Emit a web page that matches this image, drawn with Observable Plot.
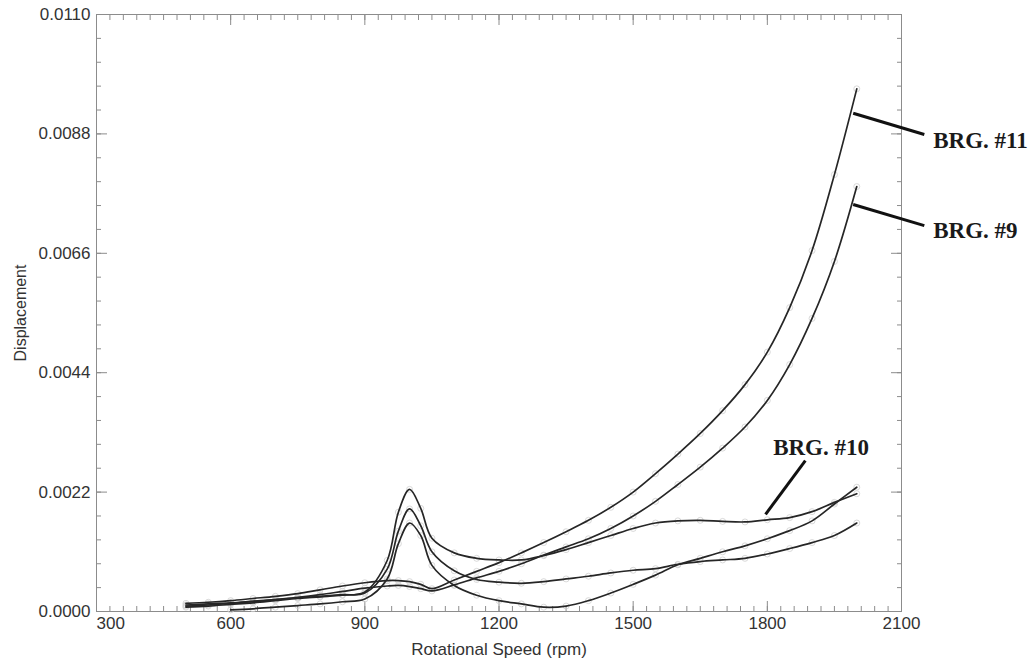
<!DOCTYPE html>
<html>
<head>
<meta charset="utf-8">
<script src="https://cdn.jsdelivr.net/npm/d3@7"></script>
<script src="https://cdn.jsdelivr.net/npm/@observablehq/plot@0.6"></script>
<style>
  html, body { margin: 0; padding: 0; background: #fff; }
  #chart svg { display: block; }
</style>
</head>
<body>
<div id="chart"></div>
<script>
// ---- Data ----
const rpm = [500,550,600,650,700,750,800,850,900,950,975,1000,1025,1050,1100,1150,1200,1250,1300,1350,1400,1450,1500,1550,1600,1650,1700,1750,1800,1850,1900,1950,2000];

const brg11 = [0.00015,0.00017,0.0002,0.00024,0.00028,0.00033,0.0004,0.00047,0.00053,0.00057,0.00057,0.00055,0.0005,0.00042,0.00058,0.00074,0.0009,0.00108,0.00127,0.00147,0.00168,0.00192,0.0022,0.00254,0.0029,0.00328,0.0037,0.00418,0.00478,0.0056,0.00665,0.00805,0.00963];

const brg9 = [0.0001,0.00012,0.00015,0.00018,0.00022,0.00026,0.00031,0.00037,0.00043,0.00047,0.00048,0.00046,0.00042,0.00038,0.00049,0.00062,0.00074,0.00088,0.00104,0.00119,0.00134,0.00153,0.00176,0.00203,0.00234,0.00266,0.00301,0.0034,0.00389,0.00455,0.0054,0.00645,0.00783];

const brg10 = [0.00008,0.0001,0.00013,0.00016,0.0002,0.00024,0.00027,0.0003,0.00036,0.00094,0.00183,0.00225,0.0019,0.00135,0.00108,0.00098,0.00095,0.00095,0.00103,0.00114,0.00127,0.0014,0.00153,0.00163,0.00167,0.00168,0.00166,0.00165,0.00169,0.00173,0.00184,0.00201,0.00217];

const brgA = [0.00012,0.00014,0.00016,0.00019,0.00022,0.00025,0.00028,0.00031,0.00034,0.00078,0.00148,0.00189,0.00158,0.0011,0.00075,0.00059,0.00054,0.00052,0.00055,0.0006,0.00065,0.00071,0.00076,0.00079,0.00087,0.00092,0.00095,0.00098,0.00106,0.00116,0.00127,0.0014,0.00163];

const brgB = [null,null,0.00003,0.00005,0.00008,0.00011,0.00014,0.00018,0.00023,0.0006,0.00125,0.00163,0.0014,0.00085,0.00048,0.0003,0.0002,0.00014,0.00008,0.0001,0.0002,0.00034,0.0005,0.00067,0.00086,0.00098,0.0011,0.00121,0.00134,0.00149,0.00167,0.00198,0.00229];

const seriesNames = ["BRG. #11", "BRG. #9", "BRG. #10", "curve A", "curve B"];
const seriesValues = [brg11, brg9, brg10, brgA, brgB];

const xTicks = [300,600,900,1200,1500,1800,2100];
const yTicks = [0,0.0022,0.0044,0.0066,0.0088,0.011];
const xMinorTicks = d3.range(300, 2100.5, 30);
const yMinorTicks = d3.range(0, 0.01101, 0.00044);

// Annotation label anchors in data units
const labelText = ["BRG. #11", "BRG. #9", "BRG. #10"];
const labelX = [2171, 2171, 1813];
const labelY = [0.00868, 0.00702, 0.00302];
const leaderX1 = [1992, 1992, 1885];
const leaderY1 = [0.00918, 0.0075, 0.00278];
const leaderX2 = [2151, 2151, 1796];
const leaderY2 = [0.00879, 0.00711, 0.00179];

// ---- Build tables ----
const rows = [];
seriesNames.forEach((name, i) => {
  rpm.forEach((r, j) => {
    const v = seriesValues[i][j];
    if (v != null) rows.push({series: name, rpm: r, value: v});
  });
});
const labels = labelText.map((t, i) => ({text: t, x: labelX[i], y: labelY[i]}));
const leaders = labelText.map((t, i) => ({x1: leaderX1[i], y1: leaderY1[i], x2: leaderX2[i], y2: leaderY2[i]}));

const axisGrey = "#8c8c8c";
const textGrey = "#333";

const chart = Plot.plot({
  width: 1034,
  height: 666,
  marginLeft: 96,
  marginRight: 133,
  marginTop: 14,
  marginBottom: 55,
  style: {fontFamily: "'Liberation Sans', Arial, sans-serif", fontSize: "17px", background: "#fff", color: textGrey, overflow: "visible"},
  x: {domain: [300, 2100], axis: null},
  y: {domain: [0, 0.011], axis: null},
  marks: [
    // inward ticks (major + minor) on all four sides
    Plot.axisY({anchor: "left", ticks: yTicks, tickSize: 11, dx: 11, tickFormat: () => "", label: null, stroke: axisGrey}),
    Plot.axisY({anchor: "left", ticks: yMinorTicks, tickSize: 5, dx: 5, tickFormat: () => "", label: null, stroke: axisGrey}),
    Plot.axisY({anchor: "right", ticks: yTicks, tickSize: 11, dx: -11, tickFormat: () => "", label: null, stroke: axisGrey}),
    Plot.axisY({anchor: "right", ticks: yMinorTicks, tickSize: 5, dx: -5, tickFormat: () => "", label: null, stroke: axisGrey}),
    Plot.axisX({anchor: "bottom", ticks: xTicks, tickSize: 10, dy: -10, tickFormat: () => "", label: null, stroke: axisGrey}),
    Plot.axisX({anchor: "bottom", ticks: xMinorTicks, tickSize: 5, dy: -5, tickFormat: () => "", label: null, stroke: axisGrey}),
    Plot.axisX({anchor: "top", ticks: xTicks, tickSize: 10, dy: 10, tickFormat: () => "", label: null, stroke: axisGrey}),
    Plot.axisX({anchor: "top", ticks: xMinorTicks, tickSize: 5, dy: 5, tickFormat: () => "", label: null, stroke: axisGrey}),
    // tick labels
    Plot.axisY({anchor: "left", ticks: yTicks, tickSize: 0, tickPadding: 6, tickFormat: d3.format(".4f"), label: null, fill: textGrey}),
    Plot.axisX({anchor: "bottom", ticks: xTicks.slice(1), tickSize: 0, tickPadding: 5, tickFormat: d => String(d), label: null, fill: textGrey}),
    Plot.text(xTicks.slice(0, 1), {x: d => d, frameAnchor: "bottom", dy: 5, lineAnchor: "top", textAnchor: "start", text: d => String(d), fill: textGrey}),
    Plot.frame({stroke: axisGrey}),
    // axis titles
    Plot.text(["Rotational Speed (rpm)"], {frameAnchor: "bottom", dy: 38, lineAnchor: "middle", textAnchor: "middle", text: d => d, fill: textGrey}),
    Plot.text(["Displacement"], {frameAnchor: "left", dx: -76, rotate: -90, textAnchor: "middle", lineAnchor: "middle", text: d => d, fontSize: 16, fill: textGrey}),
    // faint data point markers
    Plot.dot(rows, {x: "rpm", y: "value", r: 3, stroke: "#cfcfcf", strokeWidth: 0.8, fill: "none"}),
    // curves
    Plot.line(rows, {x: "rpm", y: "value", z: "series", curve: "catmull-rom", stroke: "#262626", strokeWidth: 1.7}),
    // annotations
    Plot.link(leaders, {x1: "x1", y1: "y1", x2: "x2", y2: "y2", stroke: "#111", strokeWidth: 3}),
    Plot.text(labels, {x: "x", y: "y", text: "text", textAnchor: "start", lineAnchor: "middle", fontFamily: "'Liberation Serif', 'Times New Roman', serif", fontWeight: "bold", fontSize: 23, fill: "#1a1a1a"})
  ]
});

document.getElementById("chart").appendChild(chart);
</script>
</body>
</html>
